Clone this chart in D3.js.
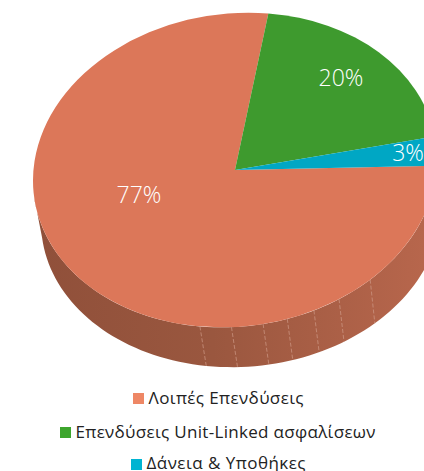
<!DOCTYPE html>
<html>
<head>
<meta charset="utf-8">
<script src="https://cdn.jsdelivr.net/npm/d3@7"></script>
<style>
  html, body { margin: 0; padding: 0; background: #fff; overflow: hidden; }
  svg { display: block; }
  text { font-family: "Open Sans", "Noto Sans", sans-serif; }
</style>
</head>
<body>
<div id="graf"></div>
<script>
// Datos
const categorias = ['Λοιπές Επενδύσεις', 'Επενδύσεις Unit-Linked ασφαλίσεων', 'Δάνεια & Υποθήκες']
const valores = [77, 20, 3]
const etiquetas = ['77%', '20%', '3%']
const colores = ['#DC7759', '#3E9A2E', '#00A7C4']
const coloresLeyenda = ['#EE8765', '#3DA52D', '#00B4D2']
// divisiones de la pared lateral, en grados desde el norte
const facetas = [138, 149, 157, 165, 172, 181, 190]

const ancho = 424, alto = 471

// Disco superior e inferior: circulo de radio 100 proyectado con una matriz
const tapa = { a: 202, k: -10.5, b: 157, cx: 235, cy: 170 }
const base = { a: 200, k: -7, b: 152, cx: 241, cy: 215 }
const inicio = 92.3 * Math.PI / 180

const svg = d3.select('#graf').append('svg')
  .attr('width', ancho)
  .attr('height', alto)

const proyectar = (d, t) => [
  d.cx + d.a * Math.sin(t),
  d.cy + d.k * Math.sin(t) - d.b * Math.cos(t)
]
const rad = d => d * Math.PI / 180

// Pared lateral: un solo path con degradado horizontal
const grad = svg.append('defs').append('linearGradient')
  .attr('id', 'sombra')
  .attr('gradientUnits', 'userSpaceOnUse')
  .attr('x1', 40).attr('x2', 424).attr('y1', 0).attr('y2', 0)
grad.append('stop').attr('offset', '0%').attr('stop-color', '#90503A')
grad.append('stop').attr('offset', '45%').attr('stop-color', '#9A573F')
grad.append('stop').attr('offset', '100%').attr('stop-color', '#B7664C')

const grados = d3.range(92, 266, 2)
const contorno = grados.map(g => proyectar(tapa, rad(g)))
  .concat(grados.slice().reverse().map(g => proyectar(base, rad(g))))

const lado = svg.append('g')
lado.append('path')
  .attr('d', d3.line()(contorno) + 'Z')
  .attr('fill', 'url(#sombra)')

lado.selectAll('line')
  .data(facetas)
  .join('line')
  .attr('x1', d => proyectar(tapa, rad(d))[0])
  .attr('y1', d => proyectar(tapa, rad(d))[1])
  .attr('x2', d => proyectar(base, rad(d))[0])
  .attr('y2', d => proyectar(base, rad(d))[1])
  .attr('stroke', '#CF9A86')
  .attr('stroke-width', 0.7)
  .attr('stroke-dasharray', '4,2')

// Cara superior
const pie = d3.pie().sort(null).startAngle(inicio).endAngle(inicio + 2 * Math.PI)
const arco = d3.arc().innerRadius(0).outerRadius(100)

svg.append('g')
  .attr('transform', `matrix(${tapa.a / 100},${tapa.k / 100},0,${tapa.b / 100},${tapa.cx},${tapa.cy})`)
  .selectAll('path')
  .data(pie(valores))
  .join('path')
  .attr('d', arco)
  .attr('fill', (d, i) => colores[i])

// Etiquetas
const posEtiquetas = [[139, 195], [341, 78], [408, 153]]
svg.selectAll('.etiqueta')
  .data(etiquetas)
  .join('text')
  .attr('class', 'etiqueta')
  .attr('x', (d, i) => posEtiquetas[i][0])
  .attr('y', (d, i) => posEtiquetas[i][1])
  .attr('dy', '.36em')
  .attr('text-anchor', 'middle')
  .attr('fill', '#fff')
  .style('font-size', '23px')
  .style('font-weight', 300)
  .text(d => d)

// Leyenda
const filas = [398, 432, 463]
const cuadros = [133, 60, 131]
const largos = [155, 300, 159]
const leyenda = svg.selectAll('.leyenda')
  .data(categorias)
  .join('g')
  .attr('class', 'leyenda')
  .attr('transform', (d, i) => `translate(${cuadros[i]}, ${filas[i]})`)

leyenda.append('rect')
  .attr('y', (d, i) => i === 2 ? -4 : -5)
  .attr('width', 11)
  .attr('height', 11)
  .attr('fill', (d, i) => coloresLeyenda[i])

leyenda.append('text')
  .attr('x', 15.5)
  .attr('dy', '.36em')
  .attr('fill', '#222')
  .attr('textLength', (d, i) => largos[i])
  .style('font-size', '17px')
  .text(d => d)
</script>
</body>
</html>
